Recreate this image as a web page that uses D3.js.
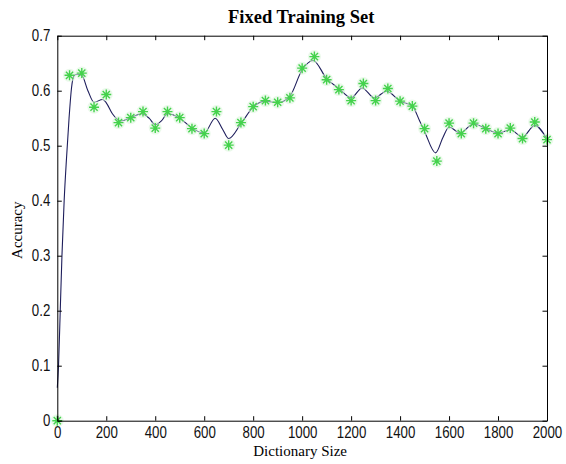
<!DOCTYPE html>
<html>
<head>
<meta charset="utf-8">
<script src="https://cdn.jsdelivr.net/npm/d3@7"></script>
<style>
	body { margin: 0; background: #fff; }
	.tick text { font-family: "Liberation Sans", Arial, sans-serif; font-size: 16px; fill: #111; }
</style>
</head>
<body>
<svg id="chart" width="566" height="464"></svg>
<script>
// Measured accuracy for each dictionary size (green stars)
const dictSizes = [0, 50, 100, 150, 200, 250, 300, 350, 400, 450, 500, 550, 600, 650, 700, 750, 800, 850, 900, 950,
	1000, 1050, 1100, 1150, 1200, 1250, 1300, 1350, 1400, 1450, 1500, 1550, 1600, 1650, 1700, 1750, 1800, 1850, 1900, 1950, 2000];
const accuracy = [0, 0.628, 0.632, 0.570, 0.593, 0.542, 0.551, 0.562, 0.532, 0.562, 0.551, 0.531, 0.522, 0.562, 0.501, 0.542, 0.571, 0.582, 0.579, 0.587,
	0.641, 0.662, 0.620, 0.602, 0.582, 0.613, 0.582, 0.604, 0.581, 0.572, 0.531, 0.472, 0.541, 0.522, 0.541, 0.531, 0.522, 0.532, 0.513, 0.543, 0.511];

// Smoothed curve (blue line)
const fitSizes = [0, 5, 12, 19, 28, 38, 48, 58, 68, 80, 100, 125, 150, 185, 200, 225, 260, 300, 345, 375, 400, 425, 450, 500, 550, 600, 645, 675, 700,
	750, 800, 850, 900, 950, 1000, 1045, 1100, 1150, 1200, 1245, 1295, 1345, 1400, 1450, 1480, 1500, 1545, 1575, 1600, 1645, 1700, 1750, 1800, 1850, 1900, 1950, 2000];
const fitAccuracy = [0.06, 0.10, 0.20, 0.30, 0.40, 0.48, 0.55, 0.605, 0.627, 0.630, 0.628, 0.600, 0.579, 0.584, 0.578, 0.558, 0.545, 0.551, 0.558, 0.550, 0.538, 0.545, 0.558, 0.550, 0.532, 0.523, 0.550, 0.530, 0.513,
	0.540, 0.570, 0.581, 0.578, 0.590, 0.638, 0.655, 0.622, 0.604, 0.587, 0.605, 0.587, 0.599, 0.581, 0.572, 0.545, 0.526, 0.487, 0.515, 0.534, 0.523, 0.540, 0.531, 0.523, 0.529, 0.516, 0.537, 0.512];

const xTicks = [0, 200, 400, 600, 800, 1000, 1200, 1400, 1600, 1800, 2000];
const yTicks = [0, 0.1, 0.2, 0.3, 0.4, 0.5, 0.6, 0.7];
const yTickLabels = ["0", "0.1", "0.2", "0.3", "0.4", "0.5", "0.6", "0.7"];

const margin = { top: 35.7, right: 19, bottom: 43.3, left: 57.3 };
const width = 566 - margin.left - margin.right;
const height = 464 - margin.top - margin.bottom;

const svg = d3.select("#chart");
const g = svg.append("g").attr("transform", `translate(${margin.left},${margin.top})`);

const x = d3.scaleLinear().domain([0, 2000]).range([0, width]);
const y = d3.scaleLinear().domain([0, 0.7]).range([height, 0]);

// Smoothed line
const line = d3
	.line()
	.x((d) => x(d[0]))
	.y((d) => y(d[1]))
	.curve(d3.curveMonotoneX);

g.append("path")
	.datum(fitSizes.map((s, i) => [s, fitAccuracy[i]]))
	.attr("fill", "none")
	.attr("stroke", "#1e1e5c")
	.attr("stroke-width", 1.1)
	.attr("d", line);

// Star markers
const stars = g
	.selectAll(".star")
	.data(dictSizes.map((s, i) => [s, accuracy[i]]))
	.join("g")
	.attr("class", "star")
	.attr("transform", (d) => `translate(${x(d[0])},${y(d[1])})`);

stars.append("circle").attr("r", 6.5).attr("fill", "#d8f4d8").attr("opacity", 0.55);

const r = 5;
const rd = 3.6;
stars
	.append("path")
	.attr("d", `M${-r},0H${r}M0,${-r}V${r}M${-rd},${-rd}L${rd},${rd}M${-rd},${rd}L${rd},${-rd}`)
	.attr("stroke", "#44d24c")
	.attr("stroke-width", 1.4)
	.attr("fill", "none");

// Axes (MATLAB style box with inward ticks)
const tick = 4.5;
const squeeze = 0.83; // tick font in the picture is narrow
const xAxis = g.append("g")
	.attr("transform", `translate(0,${height})`)
	.call(d3.axisBottom(x).tickValues(xTicks).tickFormat(d3.format("d")).tickSizeInner(-tick).tickSizeOuter(0).tickPadding(6));
xAxis.selectAll(".tick text").attr("transform", `scale(${squeeze},1)`);

g.append("g")
	.call(d3.axisTop(x).tickValues(xTicks).tickFormat("").tickSizeInner(-tick).tickSizeOuter(0));

const yAxis = g.append("g")
	.call(d3.axisLeft(y).tickValues(yTicks).tickFormat((d, i) => yTickLabels[i]).tickSizeInner(-tick).tickSizeOuter(0).tickPadding(7));
yAxis.selectAll(".tick text").attr("x", -7 / squeeze).attr("transform", `scale(${squeeze},1)`);

g.append("g")
	.attr("transform", `translate(${width},0)`)
	.call(d3.axisRight(y).tickValues(yTicks).tickFormat("").tickSizeInner(-tick).tickSizeOuter(0));

g.selectAll(".domain, .tick line").attr("stroke", "#000");

// Titles
svg.append("text")
	.attr("x", margin.left + width / 2 - 1)
	.attr("y", 22.5)
	.attr("text-anchor", "middle")
	.attr("font-family", "Liberation Serif, Times New Roman, serif")
	.attr("font-weight", "bold")
	.attr("font-size", 18.5)
	.text("Fixed Training Set");

svg.append("text")
	.attr("x", margin.left + width / 2 - 2)
	.attr("y", 456)
	.attr("text-anchor", "middle")
	.attr("font-family", "Liberation Serif, Times New Roman, serif")
	.attr("font-size", 15)
	.text("Dictionary Size");

svg.append("text")
	.attr("transform", `translate(22,${margin.top + height / 2 + 2}) rotate(-90)`)
	.attr("text-anchor", "middle")
	.attr("font-family", "Liberation Serif, Times New Roman, serif")
	.attr("font-size", 15)
	.text("Accuracy");
</script>
</body>
</html>
